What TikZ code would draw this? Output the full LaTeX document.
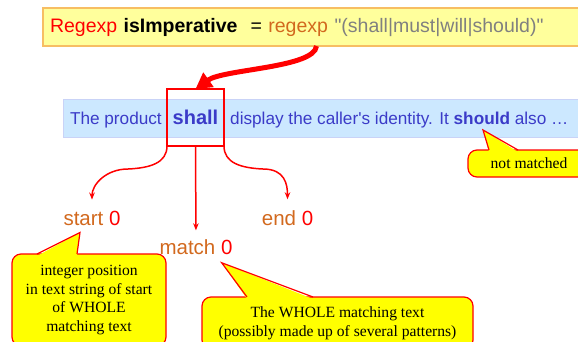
\documentclass[tikz,border=0pt]{standalone}
\usepackage{fontspec}
\setmainfont{Liberation Serif}
\newfontfamily\plainsans{Liberation Sans}
\usetikzlibrary{arrows.meta,positioning}

\definecolor{declfill}{HTML}{FFFF9C}
\definecolor{declline}{HTML}{F7BE63}
\definecolor{bandfill}{HTML}{CCE8FF}
\definecolor{bandline}{HTML}{C9D3F7}
\definecolor{bandink}{HTML}{3B3BC8}
\definecolor{wordcol}{HTML}{D2691E}
\definecolor{stringcol}{HTML}{808080}
\definecolor{notefill}{HTML}{FFFF00}
\definecolor{noteline}{HTML}{FF0000}

\tikzset{
  declbox/.style={draw=declline, fill=declfill, line width=1.5pt, outer sep=0pt,
    inner ysep=0pt, inner xsep=7pt, minimum height=38pt, text width=533pt, align=left,
    font=\plainsans\fontsize{19.5}{23}\selectfont},
  bandbox/.style={draw=bandline, fill=bandfill, line width=1pt, outer sep=0pt, inner sep=0pt},
  bandtext/.style={inner sep=0pt, text=bandink, font=\plainsans\fontsize{17.2}{21}\selectfont},
  shallbox/.style={draw=red, line width=2pt, outer sep=0pt, inner sep=0pt,
    minimum width=57pt, minimum height=57pt, text=bandink,
    font=\plainsans\bfseries\fontsize{20}{24}\selectfont},
  labeltext/.style={inner sep=0pt, font=\plainsans\fontsize{20.5}{24}\selectfont},
  notebox/.style={draw=noteline, fill=notefill, line width=1.2pt, rounded corners=9pt,
    outer sep=0pt, inner sep=0pt, align=center, font=\fontsize{15.6}{18.6}\selectfont},
  noteside/.style={draw=noteline, line width=1.2pt},
  bigarrow/.style={red, line width=5pt, -{Triangle[length=16pt,width=17pt]}},
  smallarrow/.style={red, line width=1.5pt, -{Stealth[length=7pt,width=5.5pt]}}
}

\newcommand{\lbl}[1]{\textcolor{wordcol}{#1} \textcolor{red}{0}}

\begin{document}
\begin{tikzpicture}[x=1pt, y=-1pt]
  \useasboundingbox (0,0) rectangle (578,341);
  \clip (0,0) rectangle (578,341);

  \node [declbox, anchor=west] (decl) at (43,27)
    {\textcolor{red}{Regexp} \textbf{isImperative}\ \ = \textcolor{wordcol}{regexp} \textcolor{stringcol}{"(shall|must|will|should)"}};

  \node [bandbox, anchor=north west, minimum width=527pt, minimum height=38pt] (band) at (63,99) {};
  \node [shallbox] (shall) at (195.5,117.5) {shall};
  \node [bandtext, left=5pt of shall.base west, anchor=base east] (pre) {The product};
  \node [bandtext, right=6pt of shall.base east, anchor=base west] (post)
    {display the caller's identity. It \textbf{should} also …};
  \coordinate (shouldtip) at (483,130);

  \node [labeltext] (startlbl) at (92,218) {\lbl{start}};
  \node [labeltext] (matchlbl) at (196,247) {\lbl{match}};
  \node [labeltext] (endlbl) at (287.5,218) {\lbl{end}};

  \draw [bigarrow] (decl.south) .. controls +(-2,22) and +(28,-20) .. (shall.north);
  \draw [smallarrow, shorten >=11pt] (shall.south west) .. controls +(0,17) and +(22,-1) .. ++(-39,23)
    .. controls +(-22,0) and +(0,-26) .. (startlbl.north);
  \draw [smallarrow, shorten >=9pt] (shall.south) -- (matchlbl.north);
  \draw [smallarrow, shorten >=11pt] (shall.south east) .. controls +(0,17) and +(-22,-1) .. ++(39,23)
    .. controls +(22,0) and +(0,-26) .. (endlbl.north);

  % callouts
  \node [notebox, anchor=north west, minimum width=122pt, minimum height=27pt] (nomatch) at (468,150) {not matched};
  \fill [notefill] ([xshift=21pt,yshift=-2pt]nomatch.north west) -- (shouldtip) -- ([xshift=50pt,yshift=-2pt]nomatch.north west) -- cycle;
  \draw [noteside] ([xshift=21pt]nomatch.north west) -- (shouldtip) -- ([xshift=50pt]nomatch.north west);

  \node [notebox, anchor=north west, minimum width=154pt, minimum height=92pt] (startnote) at (12,254)
    {integer position\\in text string of start\\of WHOLE\\matching text};
  \coordinate (starttip) at ([shift={(-12pt,-7pt)}]startlbl.south);
  \fill [notefill] ([xshift=25pt,yshift=-2pt]startnote.north west) -- (starttip) -- ([xshift=65pt,yshift=-2pt]startnote.north west) -- cycle;
  \draw [noteside] ([xshift=25pt]startnote.north west) -- (starttip) -- ([xshift=65pt]startnote.north west);

  \node [notebox, anchor=north west, minimum width=271pt, minimum height=52pt] (matchnote) at (202,297)
    {The WHOLE matching text\\(possibly made up of several patterns)};
  \coordinate (matchtip) at ([shift={(-11pt,-8pt)}]matchlbl.south east);
  \fill [notefill] ([xshift=45pt,yshift=-2pt]matchnote.north west) -- (matchtip) -- ([xshift=111pt,yshift=-2pt]matchnote.north west) -- cycle;
  \draw [noteside] ([xshift=45pt]matchnote.north west) -- (matchtip) -- ([xshift=111pt]matchnote.north west);
\end{tikzpicture}
\end{document}
